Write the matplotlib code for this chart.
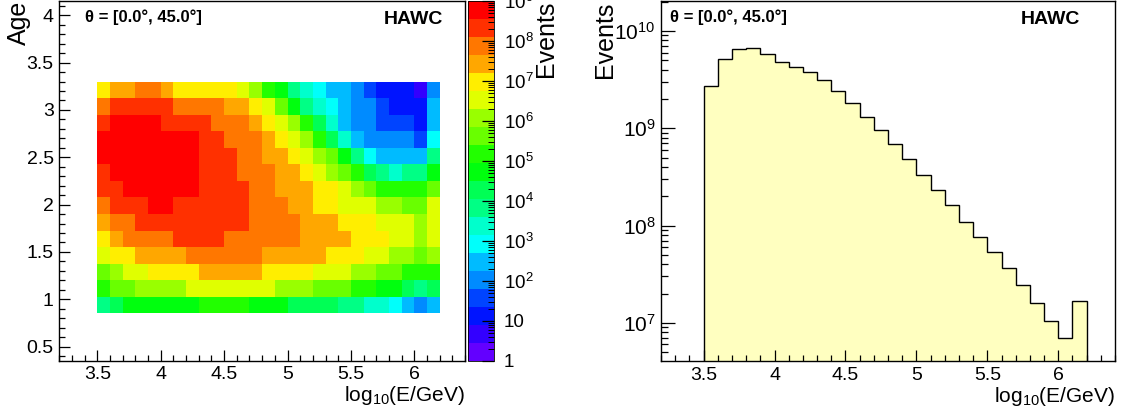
import numpy as np
import matplotlib
matplotlib.use("Agg")
from matplotlib import pyplot as plt
from matplotlib.colors import ListedColormap, LogNorm
from matplotlib.ticker import MultipleLocator, FormatStrFormatter, LogLocator, FuncFormatter

plt.rcParams['font.family'] = ['Liberation Sans', 'DejaVu Sans']
plt.rcParams['mathtext.fontset'] = 'custom'
plt.rcParams['mathtext.rm'] = 'Liberation Sans'
plt.rcParams['mathtext.it'] = 'Liberation Sans:italic'
plt.rcParams['mathtext.bf'] = 'Liberation Sans:bold'
plt.rcParams['mathtext.default'] = 'regular'

# binning of the histograms
energy_edges = np.linspace(3.5, 6.2, 28)   # log10(E/GeV), 27 bins
age_edges = np.linspace(0.85, 3.3, 15)     # age, 14 bins

# log10(events) per (age, energy) cell, rows listed from top (age 3.3) to bottom (age 0.85)
log_events = [
    [7.0, 7.4, 7.4, 7.9, 7.9, 7.4, 7.0, 7.0, 7.0, 7.0, 7.0, 6.5, 6.1, 5.2, 4.7, 3.8, 3.4, 2.9, 2.5, 2.5, 2.0, 1.6, 1.1, 1.1, 1.1, 0.7, 2.0],
    [7.9, 8.3, 8.3, 8.3, 8.3, 8.3, 7.9, 7.9, 7.9, 7.9, 7.4, 7.4, 7.0, 6.5, 5.6, 4.7, 3.8, 3.4, 2.9, 2.5, 2.0, 2.0, 1.6, 1.1, 1.1, 1.1, 2.5],
    [8.3, 8.8, 8.8, 8.8, 8.8, 8.3, 8.3, 8.3, 8.3, 7.9, 7.9, 7.9, 7.4, 7.0, 6.5, 6.1, 5.2, 4.3, 3.4, 2.5, 2.0, 2.0, 1.6, 1.6, 1.6, 1.1, 2.5],
    [8.8, 8.8, 8.8, 8.8, 8.8, 8.8, 8.8, 8.8, 8.3, 8.3, 7.9, 7.9, 7.9, 7.4, 7.0, 6.5, 6.1, 5.2, 4.3, 3.4, 2.5, 2.0, 2.0, 2.0, 2.0, 1.6, 2.9],
    [8.8, 8.8, 8.8, 8.8, 8.8, 8.8, 8.8, 8.8, 8.3, 8.3, 8.3, 7.9, 7.9, 7.4, 7.4, 7.0, 6.5, 6.1, 5.6, 4.7, 3.8, 2.9, 2.5, 2.5, 2.5, 2.5, 3.8],
    [8.3, 8.8, 8.8, 8.8, 8.8, 8.8, 8.8, 8.8, 8.3, 8.3, 8.3, 7.9, 7.9, 7.9, 7.4, 7.4, 7.0, 6.5, 6.1, 5.6, 5.2, 4.3, 3.8, 3.4, 3.8, 3.8, 4.7],
    [8.3, 8.3, 8.8, 8.8, 8.8, 8.8, 8.8, 8.8, 8.3, 8.3, 8.3, 8.3, 7.9, 7.9, 7.4, 7.4, 7.4, 7.0, 7.0, 6.5, 6.1, 5.6, 5.2, 5.2, 5.2, 5.2, 5.6],
    [7.9, 8.3, 8.3, 8.3, 8.8, 8.8, 8.3, 8.3, 8.3, 8.3, 8.3, 8.3, 7.9, 7.9, 7.9, 7.4, 7.4, 7.0, 7.0, 6.5, 6.5, 6.5, 6.1, 6.1, 5.6, 5.6, 6.5],
    [7.4, 7.9, 7.9, 8.3, 8.3, 8.3, 8.3, 8.3, 8.3, 8.3, 8.3, 8.3, 7.9, 7.9, 7.9, 7.9, 7.4, 7.4, 7.4, 7.0, 7.0, 7.0, 6.5, 6.5, 6.5, 6.1, 6.5],
    [7.0, 7.4, 7.9, 7.9, 7.9, 7.9, 8.3, 8.3, 8.3, 8.3, 7.9, 7.9, 7.9, 7.9, 7.9, 7.9, 7.4, 7.4, 7.4, 7.4, 7.0, 7.0, 7.0, 6.5, 6.5, 6.1, 6.5],
    [6.5, 7.0, 7.0, 7.4, 7.4, 7.4, 7.4, 7.9, 7.9, 7.9, 7.9, 7.9, 7.9, 7.4, 7.4, 7.4, 7.4, 7.4, 7.0, 7.0, 7.0, 6.5, 6.5, 6.1, 6.1, 5.6, 6.1],
    [5.6, 6.1, 6.5, 6.5, 7.0, 7.0, 7.0, 7.0, 7.4, 7.4, 7.4, 7.4, 7.4, 7.0, 7.0, 7.0, 7.0, 6.5, 6.5, 6.5, 6.1, 6.1, 5.6, 5.6, 5.2, 5.2, 5.2],
    [5.2, 5.6, 5.6, 6.1, 6.1, 6.1, 6.1, 6.5, 6.5, 6.5, 6.5, 6.5, 6.5, 6.5, 6.1, 6.1, 6.1, 5.6, 5.6, 5.6, 5.2, 5.2, 4.7, 4.7, 4.3, 3.8, 4.3],
    [3.8, 4.3, 4.7, 4.7, 4.7, 4.7, 4.7, 4.7, 5.2, 5.2, 5.2, 5.2, 4.7, 4.7, 4.7, 4.3, 4.3, 4.3, 4.3, 3.8, 3.8, 3.4, 3.4, 2.9, 2.5, 2.0, 2.5],
]

# events per energy bin (right panel)
hist_events = [2.72e9, 5.16e9, 6.53e9, 6.74e9, 5.86e9, 4.85e9, 4.27e9, 3.76e9, 3.14e9,
               2.44e9, 1.82e9, 1.32e9, 9.7e8, 6.85e8, 4.84e8, 3.34e8, 2.32e8, 1.61e8,
               1.10e8, 7.64e7, 5.36e7, 3.64e7, 2.43e7, 1.59e7, 1.05e7, 7.0e6, 1.68e7]

# ROOT "pretty" palette with 20 contour levels, violet -> red
palette = ['#6300ff', '#3300ff', '#0014ff', '#0044ff', '#008bff', '#00bbff', '#00fffb',
           '#00ffcc', '#00ff85', '#00ff55', '#00ff0e', '#22ff00', '#69ff00', '#99ff00',
           '#e0ff00', '#ffee00', '#ffa700', '#ff7700', '#ff3000', '#ff0000']

theta_text = u'\u03b8 = [0.0\u00b0, 45.0\u00b0]'


def style_axis(ax):
    ax.set_xlim(3.2, 6.4)
    ax.xaxis.set_major_locator(MultipleLocator(0.5))
    ax.xaxis.set_minor_locator(MultipleLocator(0.1))
    ax.xaxis.set_major_formatter(FormatStrFormatter('%g'))
    ax.tick_params(which='both', direction='in', top=False, right=False, labelsize=14, pad=4)
    ax.tick_params(which='major', length=8, width=0.9)
    ax.tick_params(which='minor', length=4, width=0.9)
    for s in ax.spines.values():
        s.set_linewidth(1.0)
    ax.set_xlabel(r'log$_{10}$(E/GeV)', fontsize=15, loc='right')
    ax.xaxis.set_label_coords(1.0, -0.065)


def plot_data(name):
    fig = plt.figure(figsize=(11.23, 4.19), dpi=100)

    # left: 2D histogram age vs energy
    ax1 = fig.add_axes([0.0528, 0.139, 0.3613, 0.8585])
    cax = fig.add_axes([0.4165, 0.139, 0.0237, 0.8585])
    z = 10.0 ** np.array(log_events[::-1])
    mesh = ax1.pcolormesh(energy_edges, age_edges, z, cmap=ListedColormap(palette),
                          norm=LogNorm(vmin=1, vmax=1e9))
    style_axis(ax1)
    ax1.set_ylim(0.35, 4.15)
    ax1.yaxis.set_major_locator(MultipleLocator(0.5))
    ax1.yaxis.set_minor_locator(MultipleLocator(0.1))
    ax1.yaxis.set_major_formatter(FormatStrFormatter('%g'))
    ax1.set_ylabel('Age', fontsize=18, loc='top')
    ax1.yaxis.set_label_coords(-0.07, 1.0)
    ax1.text(0.063, 0.955, theta_text, transform=ax1.transAxes, fontsize=12,
             fontweight='bold', ha='left', va='center')
    ax1.text(0.945, 0.95, 'HAWC', transform=ax1.transAxes, fontsize=14,
             fontweight='bold', ha='right', va='center')

    cb = fig.colorbar(mesh, cax=cax)
    cb.outline.set_linewidth(0.6)
    cax.yaxis.set_major_locator(LogLocator(base=10, numticks=12))
    cax.yaxis.set_minor_locator(LogLocator(base=10, subs=np.arange(2, 10), numticks=12))
    cax.yaxis.set_major_formatter(FuncFormatter(
        lambda v, p: '1' if v < 5 else ('10' if v < 50 else r'$10^{%d}$' % round(np.log10(v)))))
    cax.tick_params(which='both', direction='in', left=False, right=True, labelsize=13.5, pad=7)
    cax.tick_params(which='major', length=9, width=0.9)
    cax.tick_params(which='minor', length=4.5, width=0.7)
    cb.set_label('Events', fontsize=18, loc='top')
    cax.yaxis.set_label_coords(2.5, 1.0)

    # right: energy distribution
    ax2 = fig.add_axes([0.5886, 0.138, 0.4043, 0.859])
    ax2.stairs(hist_events, energy_edges, baseline=1e5, fill=True, color='#ffffc0')
    ax2.stairs(hist_events, energy_edges, baseline=1e5, color='black', linewidth=1.0)
    style_axis(ax2)
    ax2.set_yscale('log')
    ax2.set_ylim(4.04e6, 2.02e10)
    ax2.yaxis.set_minor_locator(LogLocator(base=10, subs=np.arange(2, 10), numticks=12))
    ax2.tick_params(axis='y', labelsize=15)
    ax2.tick_params(axis='y', which='major', length=10)
    ax2.tick_params(axis='y', which='minor', length=5)
    ax2.set_ylabel('Events', fontsize=18, loc='top')
    ax2.yaxis.set_label_coords(-0.097, 1.0)
    ax2.text(0.02, 0.955, theta_text, transform=ax2.transAxes, fontsize=12,
             fontweight='bold', ha='left', va='center')
    ax2.text(0.923, 0.95, 'HAWC', transform=ax2.transAxes, fontsize=14,
             fontweight='bold', ha='right', va='center')

    fig.savefig(name, dpi=100)


plot_data('out.png')
